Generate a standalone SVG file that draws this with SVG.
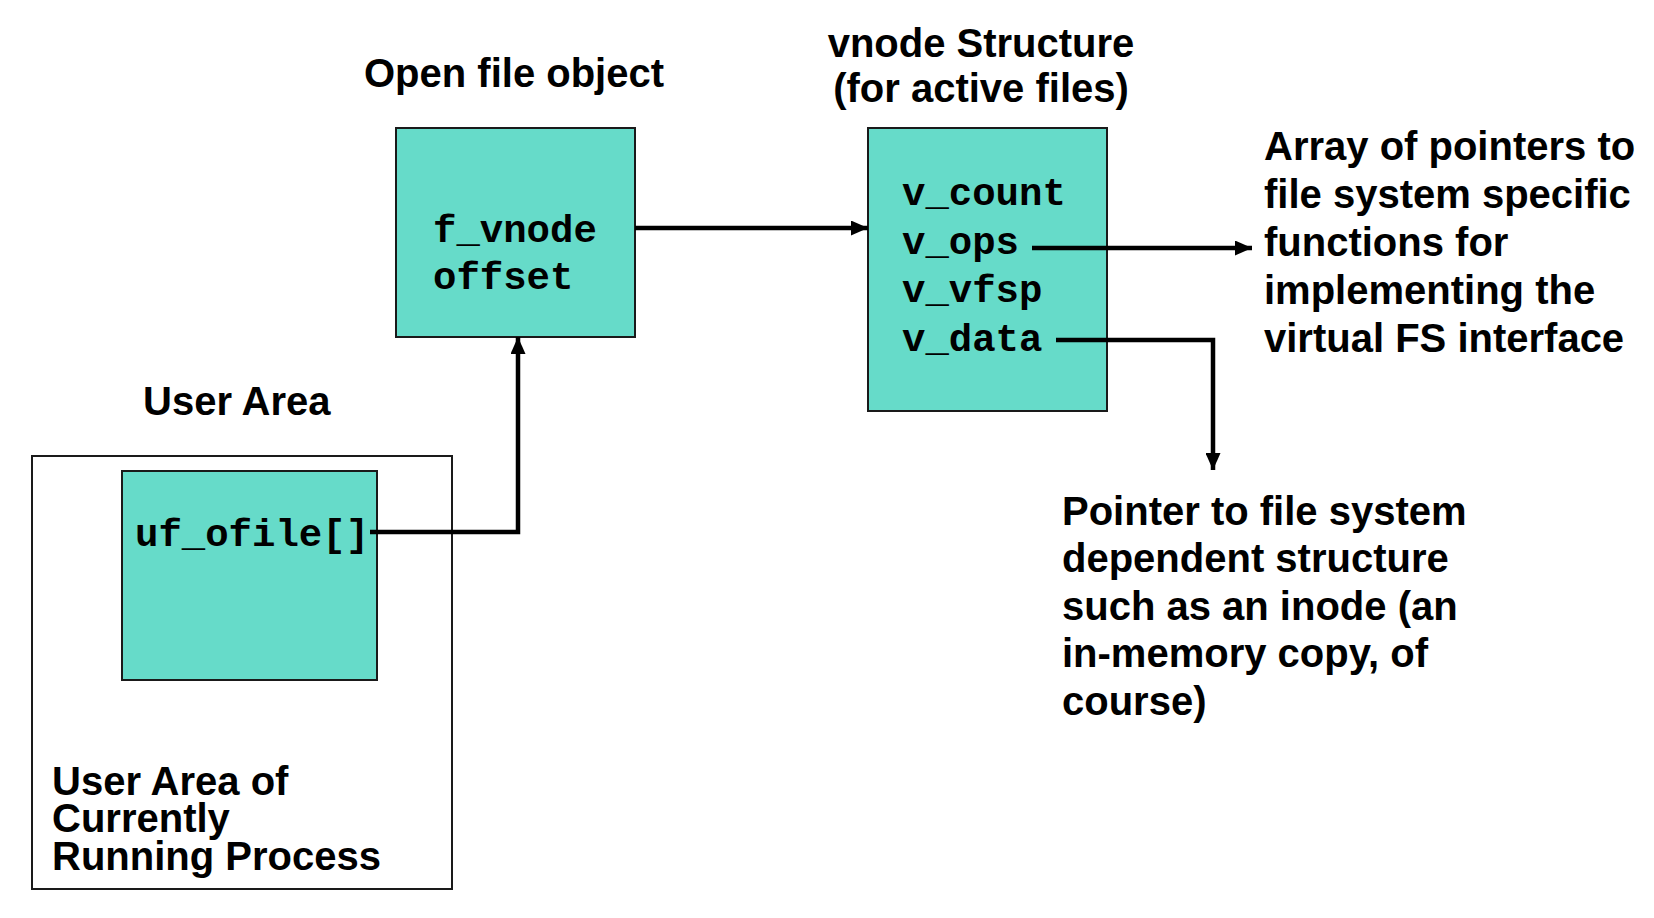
<svg xmlns="http://www.w3.org/2000/svg" width="1654" height="918" viewBox="0 0 1654 918">
  <defs>
    <style>
      .lbl { font-family: "Liberation Sans", Arial, sans-serif; font-weight: bold; font-size: 40px; fill: #000; }
      .code { font-family: "Liberation Mono", "Courier New", monospace; font-weight: bold; font-size: 39px; fill: #000; }
      .teal { fill: #66DBC9; stroke: #1a1a1a; stroke-width: 2; }
      .frame { fill: #fff; stroke: #1a1a1a; stroke-width: 2; }
      .conn { fill: none; stroke: #000; stroke-width: 4.5; stroke-linejoin: miter; }
    </style>
    <marker id="arrow" viewBox="0 0 17 15" refX="17" refY="7.5" markerWidth="17" markerHeight="15" markerUnits="userSpaceOnUse" orient="auto">
      <path d="M0,0 L17,7.5 L0,15 Z" fill="#000"/>
    </marker>
  </defs>
  <rect x="0" y="0" width="1654" height="918" fill="#fff"/>

  <g id="user-area">
    <text class="lbl" x="143" y="415">User Area</text>
    <rect class="frame" x="32" y="456" width="420" height="433"/>
    <text class="lbl" x="52" y="795">User Area of</text>
    <text class="lbl" x="52" y="832">Currently</text>
    <text class="lbl" x="52" y="870">Running Process</text>
  </g>

  <g id="uf-ofile">
    <rect class="teal" x="122" y="471" width="255" height="209"/>
    <text class="code" x="135" y="546">uf_ofile[]</text>
  </g>

  <g id="open-file-object">
    <text class="lbl" x="364" y="87">Open file object</text>
    <rect class="teal" x="396" y="128" width="239" height="209"/>
    <text class="code" x="433" y="242">f_vnode</text>
    <text class="code" x="433" y="289">offset</text>
  </g>

  <g id="vnode">
    <text class="lbl" x="981" y="57" text-anchor="middle">vnode Structure</text>
    <text class="lbl" x="981" y="102" text-anchor="middle">(for active files)</text>
    <rect class="teal" x="868" y="128" width="239" height="283"/>
    <text class="code" x="902" y="205">v_count</text>
    <text class="code" x="902" y="254">v_ops</text>
    <text class="code" x="902" y="302">v_vfsp</text>
    <text class="code" x="902" y="351">v_data</text>
  </g>

  <g id="ops-note">
    <text class="lbl" x="1264" y="160">Array of pointers to</text>
    <text class="lbl" x="1264" y="208">file system specific</text>
    <text class="lbl" x="1264" y="256">functions for</text>
    <text class="lbl" x="1264" y="304">implementing the</text>
    <text class="lbl" x="1264" y="352">virtual FS interface</text>
  </g>

  <g id="data-note">
    <text class="lbl" x="1062" y="525">Pointer to file system</text>
    <text class="lbl" x="1062" y="572">dependent structure</text>
    <text class="lbl" x="1062" y="620">such as an inode (an</text>
    <text class="lbl" x="1062" y="667">in-memory copy, of</text>
    <text class="lbl" x="1062" y="715">course)</text>
  </g>

  <g id="connectors">
    <path class="conn" d="M370,532 H518 V337" marker-end="url(#arrow)"/>
    <path class="conn" d="M635,228 H868" marker-end="url(#arrow)"/>
    <path class="conn" d="M1032,248 H1252" marker-end="url(#arrow)"/>
    <path class="conn" d="M1056,340 H1213 V470" marker-end="url(#arrow)"/>
  </g>
</svg>
